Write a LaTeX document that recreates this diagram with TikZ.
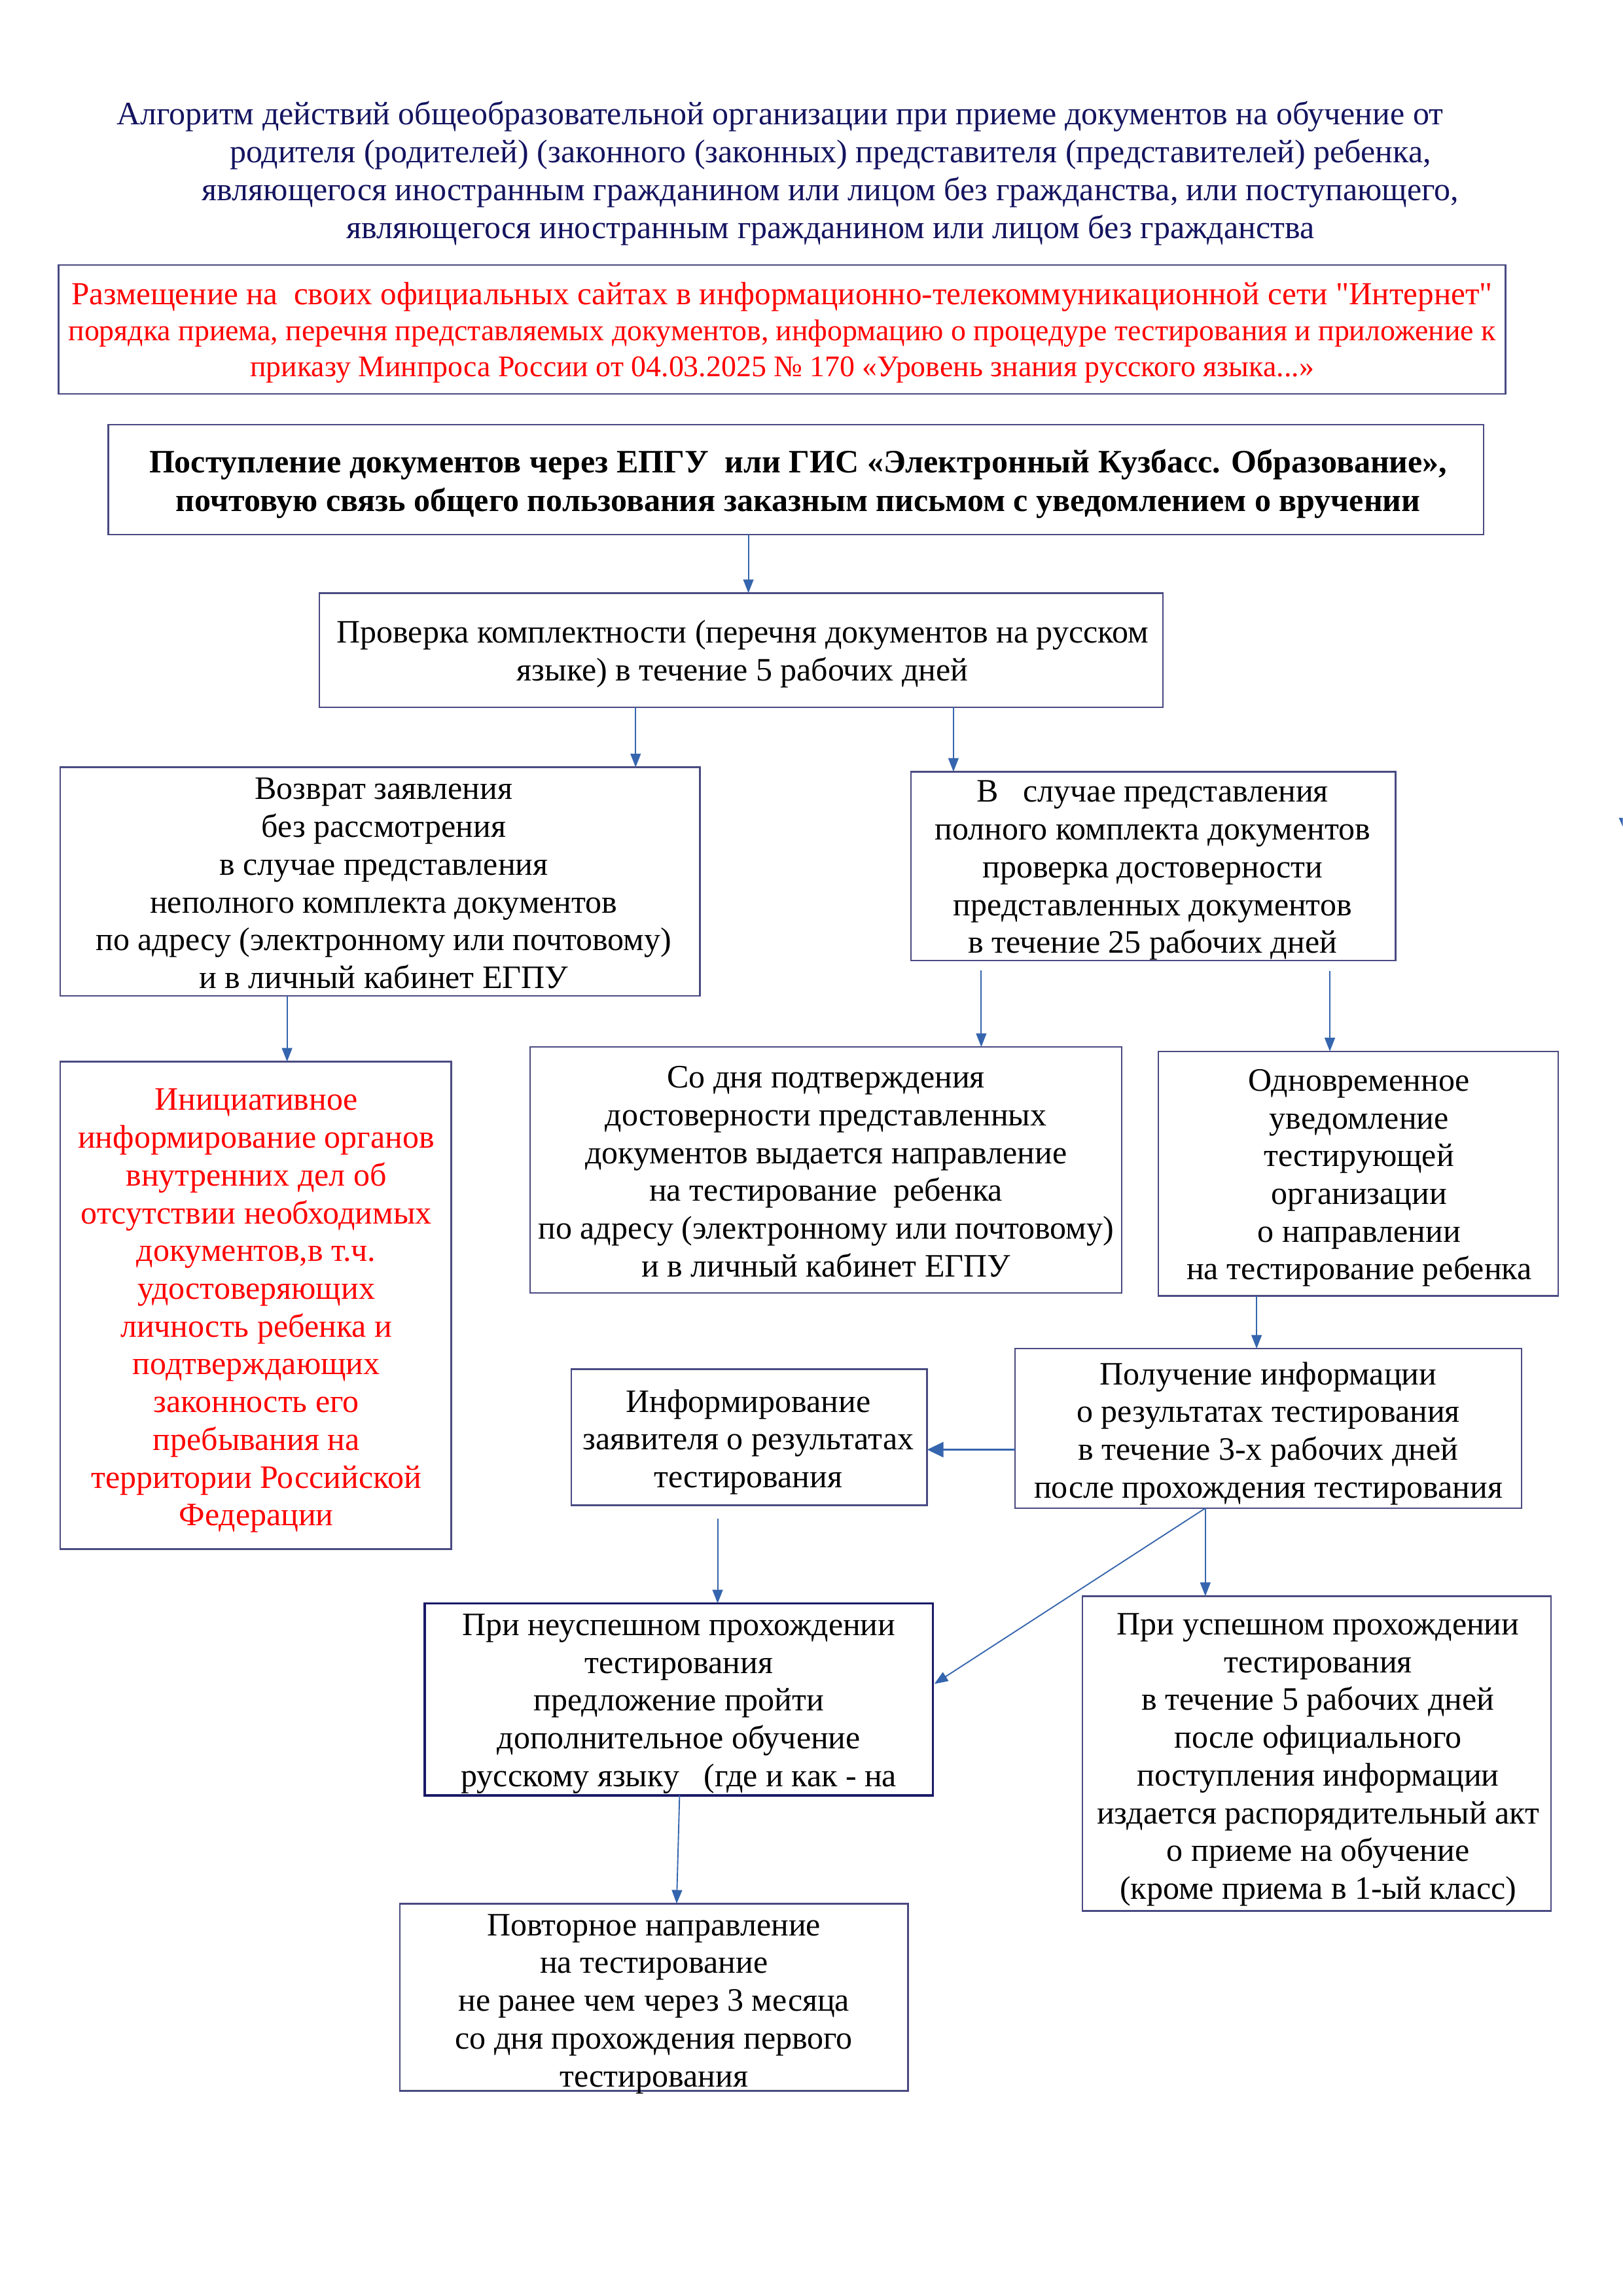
\documentclass[tikz,border=0pt]{standalone}
\usepackage{fontspec}
\setmainfont{Liberation Serif}[Ligatures=TeXOff]
\usetikzlibrary{arrows.meta}
\definecolor{navy}{HTML}{141460}
\definecolor{boxc}{HTML}{4A4A82}
\definecolor{boxd}{HTML}{1A1A66}
\definecolor{arrc}{HTML}{3565AE}
\definecolor{redt}{HTML}{FF0000}
\newcommand{\bx}[6][]{\node[boxst,#1,minimum width={(#5-#3)*0.53727pt},minimum height={(#6-#4)*0.53727pt}] (#2) at ({(#3+#5)/2},{(#4+#6)/2}) {};}
\begin{document}
\begin{tikzpicture}[x=0.53727pt,y=-0.53727pt,
  boxst/.style={draw=boxc,line width=0.6pt,inner sep=0pt,outer sep=0pt},
  txt/.style={align=center,inner sep=0pt,anchor=base,font=\fontsize{12}{13.86}\selectfont},
  arr/.style={draw=arrc,line width=0.45pt,-{Triangle[length=5pt,width=3.8pt]}},
  thickarr/.style={draw=arrc,line width=0.9pt,-{Triangle[length=6pt,width=5.5pt]}}]
\useasboundingbox (0,0) rectangle (1108,1568);
\fill[white] (0,0) rectangle (1108,1568);

% title (anchor base = baseline of the last line)
\node[txt,text=navy] (title1) at (532.5,85) {Алгоритм действий общеобразовательной организации при приеме документов на обучение от};
\node[txt,text=navy,font=\fontsize{12}{13.97}\selectfont] (title2) at (567,163) {родителя (родителей) (законного (законных) представителя (представителей) ребенка,\\являющегося иностранным гражданином или лицом без гражданства, или поступающего,\\являющегося иностранным гражданином или лицом без гражданства};

% boxes
\bx{bred}{40}{181}{1028}{269}
\bx{bpost}{74}{290}{1013}{365}
\bx{bcheck}{218}{405}{794}{483}
\bx{bret}{41}{524}{478}{680}
\bx{bfull}{622}{527}{953}{656}
\bx{binit}{41}{725}{308}{1058}
\bx{bdir}{362}{715}{766}{883}
\bx{bsim}{791}{718}{1064}{885}
\bx{bget}{693}{921}{1039}{1030}
\bx{binf}{390}{935}{633}{1028}
\bx[draw=boxd,line width=0.9pt]{bfail}{290}{1095}{637}{1226}
\bx{bok}{739}{1090}{1059}{1305}
\bx{brep}{273}{1300}{620}{1428}

% texts
\node[txt,text=redt,font=\fontsize{11}{13.16}\selectfont] (tred) at (534,257) {{\fontsize{11.8}{13.16}\selectfont Размещение на\ \ своих официальных сайтах в информационно-телекоммуникационной сети "Интернет"}\\порядка приема, перечня представляемых документов, информацию о процедуре тестирования и приложение к\\приказу Минпроса России от 04.03.2025 № 170 «Уровень знания русского языка...»};
\node[txt,font=\fontsize{12}{13.97}\selectfont\bfseries] (tpost) at (545,349) {Поступление документов через ЕПГУ\ \ или ГИС «Электронный Кузбасс. Образование»,\\почтовую связь общего пользования заказным письмом с уведомлением о вручении};
\node[txt,font=\fontsize{12}{13.97}\selectfont] (tcheck) at (507,465) {Проверка комплектности (перечня документов на русском\\языке) в течение 5 рабочих дней};
\node[txt] (tret) at (262,675) {Возврат заявления\\без рассмотрения\\в случае представления\\неполного комплекта документов\\по адресу (электронному или почтовому)\\и в личный кабинет ЕГПУ};
\node[txt] (tfull) at (787,651) {В\ \ \ случае представления\\полного комплекта документов\\проверка достоверности\\представленных документов\\в течение 25 рабочих дней};
\node[txt,text=redt] (tinit) at (175,1042) {Инициативное\\информирование органов\\внутренних дел об\\отсутствии необходимых\\документов,в т.ч.\\удостоверяющих\\личность ребенка и\\подтверждающих\\законность его\\пребывания на\\территории Российской\\Федерации};
\node[txt] (tdir) at (564,872) {Со дня подтверждения\\достоверности представленных\\документов выдается направление\\на тестирование\ \ ребенка\\по адресу (электронному или почтовому)\\и в личный кабинет ЕГПУ};
\node[txt] (tsim) at (928,874) {Одновременное\\уведомление\\тестирующей\\организации\\о направлении\\на тестирование ребенка};
\node[txt] (tget) at (866,1023) {Получение информации\\о результатах тестирования\\в течение 3-х рабочих дней\\после прохождения тестирования};
\node[txt] (tinf) at (511,1016) {Информирование\\заявителя о результатах\\тестирования};
\node[txt] (tfail) at (463.5,1220) {При неуспешном прохождении\\тестирования\\предложение пройти\\дополнительное обучение\\русскому языку\ \ \ (где и как - на};
\node[txt] (tok) at (900,1297) {При успешном прохождении\\тестирования\\в течение 5 рабочих дней\\после официального\\поступления информации\\издается распорядительный акт\\о приеме на обучение\\(кроме приема в 1-ый класс)};
\node[txt] (trep) at (446.5,1425) {Повторное направление\\на тестирование\\не ранее чем через 3 месяца\\со дня прохождения первого\\тестирования};

% x positions for connectors
\coordinate (xa) at (511,0);
\coordinate (xb) at (434,0);
\coordinate (xc) at (651,0);
\coordinate (xd) at (196,0);
\coordinate (xe) at (670,0);
\coordinate (xf) at (908,0);
\coordinate (xg) at (858,0);
\coordinate (xh) at (490,0);
\coordinate (xi) at (823,0);
\coordinate (yj) at (0,990);
\coordinate (ydiag) at (0,1150);

% connectors
\draw[arr] (bpost.south -| xa) -- (bcheck.north -| xa);
\draw[arr] (bcheck.south -| xb) -- (bret.north -| xb);
\draw[arr] (bcheck.south -| xc) -- (bfull.north -| xc);
\draw[arr] (bret.south -| xd) -- (binit.north -| xd);
\draw[arr,shorten <=3.5pt] (bfull.south -| xe) -- (bdir.north -| xe);
\draw[arr,shorten <=3.8pt] (bfull.south -| xf) -- (bsim.north -| xf);
\draw[arr] (bsim.south -| xg) -- (bget.north -| xg);
\draw[thickarr] (bget.west |- yj) -- (binf.east |- yj);
\draw[arr,shorten <=4.8pt] (binf.south -| xh) -- (bfail.north -| xh);
\draw[arr] (bget.south -| xi) -- (bok.north -| xi);
\draw[arr] (bget.south -| xi) -- ([xshift=0.5pt]bfail.east |- ydiag);
\coordinate (ftop) at (464,1226);
\coordinate (fbot) at (462,1300);
\draw[arr] (ftop) -- (fbot);

% clipped arrow tip at right page edge
\fill[arrc] (1105.3,558.5) -- (1108,558.5) -- (1108,564.5) -- cycle;
\end{tikzpicture}
\end{document}
